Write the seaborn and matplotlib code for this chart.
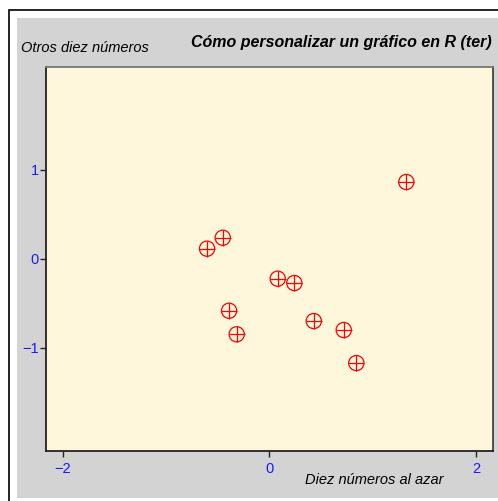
import matplotlib
matplotlib.use("Agg")
import matplotlib.pyplot as plt
import seaborn as sns
import pandas as pd
from matplotlib.patches import Rectangle

# data
x_vals = [1.326, -0.451, -0.603, 0.081, 0.242, -0.390, -0.316, 0.430, 0.720, 0.842]
y_vals = [0.864, 0.236, 0.113, -0.225, -0.274, -0.586, -0.851, -0.702, -0.803, -1.175]
x_ticks = [-2, 0, 2]
y_ticks = [-1, 0, 1]
tick_labels_x = ["\u22122", "0", "2"]
tick_labels_y = ["\u22121", "0", "1"]

df = pd.DataFrame({"x": x_vals, "y": y_vals})

sns.set_style("white")
plt.rcParams["font.family"] = ["Liberation Sans", "DejaVu Sans"]
plt.rcParams["text.color"] = "black"

W, H = 498, 501
fig = plt.figure(figsize=(W / 100, H / 100), dpi=100)
fig.patch.set_facecolor("white")

# outer frame and grey panel (pixel coords -> figure fraction)
def fx(px):
    return px / W

def fy(py):
    return 1 - py / H

fig.patches.append(Rectangle((fx(9), fy(505)), fx(600), fy(10) - fy(505),
                             transform=fig.transFigure, facecolor="white",
                             edgecolor="black", linewidth=1.2, zorder=-2))
fig.patches.append(Rectangle((fx(17), fy(498)), fx(490), fy(18) - fy(498),
                             transform=fig.transFigure, facecolor="#d3d3d3",
                             edgecolor="none", zorder=-1))

ax = fig.add_axes([fx(46), fy(450.7), fx(492.7) - fx(46), fy(67) - fy(450.7)])
ax.set_facecolor("#fff7dc")

sns.scatterplot(data=df, x="x", y="y", ax=ax, marker="o", s=120,
                facecolor="none", edgecolor="red", linewidth=0.9, zorder=3)
sns.scatterplot(data=df, x="x", y="y", ax=ax, marker="+", s=120,
                color="red", linewidth=0.9, zorder=3)

ax.set_xlim(-2.162, 2.162)
ax.set_ylim(-2.162, 2.159)
ax.set_xticks(x_ticks)
ax.set_xticklabels(tick_labels_x)
ax.set_yticks(y_ticks)
ax.set_yticklabels(tick_labels_y)
ax.tick_params(axis="both", direction="out", length=4, width=1, color="#222222",
               labelcolor="#1a1aff", labelsize=10.5, left=True, bottom=True)
ax.tick_params(axis="x", pad=4)
ax.tick_params(axis="y", pad=1)
ax.set_xlabel("")
ax.set_ylabel("")

for side, col in [("left", "#222222"), ("bottom", "#222222"),
                  ("top", "#777777"), ("right", "#444444")]:
    ax.spines[side].set_visible(True)
    ax.spines[side].set_color(col)
    ax.spines[side].set_linewidth(1.3)

fig.text(fx(492), fy(43), "Cómo personalizar un gráfico en R (ter)",
         ha="right", va="center", fontsize=11.5, fontweight="bold", style="italic")
fig.text(fx(21), fy(48), "Otros diez números", ha="left", va="center",
         fontsize=10.5, style="italic")
fig.text(fx(443), fy(480), "Diez números al azar", ha="right", va="center",
         fontsize=10.5, style="italic")

fig.savefig("out.png", dpi=100)
